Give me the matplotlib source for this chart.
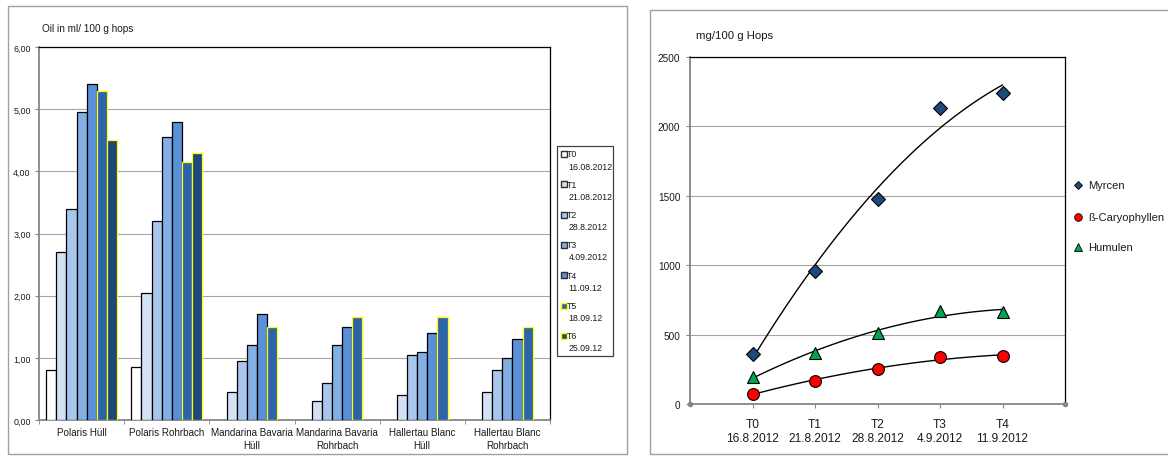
import matplotlib
matplotlib.use('Agg')
import matplotlib.pyplot as plt
import numpy as np
from matplotlib.patches import Rectangle
from matplotlib.lines import Line2D

plt.rcParams['font.family'] = ['Liberation Sans', 'DejaVu Sans']

# ---- left chart data: oil content per variety / sampling date
varieties = ['Polaris Hüll', 'Polaris Rohrbach', 'Mandarina Bavaria\nHüll',
             'Mandarina Bavaria\nRohrbach', 'Hallertau Blanc\nHüll',
             'Hallertau Blanc\nRohrbach']
dates = ['T0\n16.08.2012', 'T1\n21.08.2012', 'T2\n28.8.2012', 'T3\n4.09.2012',
         'T4\n11.09.12', 'T5\n18.09.12', 'T6\n25.09.12']
T0 = [0.80, 0.85, None, None, None, None]
T1 = [2.70, 2.05, 0.45, 0.30, 0.40, 0.45]
T2 = [3.40, 3.20, 0.95, 0.60, 1.05, 0.80]
T3 = [4.95, 4.55, 1.20, 1.20, 1.10, 1.00]
T4 = [5.40, 4.80, 1.70, 1.50, 1.40, 1.30]
T5 = [5.30, 4.15, 1.50, 1.65, 1.65, 1.50]
T6 = [4.50, 4.30, None, None, None, None]
oil = [T0, T1, T2, T3, T4, T5, T6]
bar_colors = ['#FFFFFF', '#D3E1F4', '#A9C7EC', '#84AFE3', '#5A90D8', '#2C63AA', '#1F477D']
edge_colors = ['#000000'] * 5 + ['#FFFF00'] * 2

# ---- right chart data: oil components mg/100 g
times = ['T0\n16.8.2012', 'T1\n21.8.2012', 'T2\n28.8.2012', 'T3\n4.9.2012', 'T4\n11.9.2012']
myrcen = [360, 960, 1480, 2130, 2240]
caryophyllen = [75, 165, 250, 340, 345]
humulen = [195, 370, 510, 670, 665]

W, H = 1168, 460
fig = plt.figure(figsize=(W / 100, H / 100), dpi=100)


def fx(px):
    return px / W


def fy(py):
    return 1 - py / H


# outer frames
fig.add_artist(Rectangle((fx(8), fy(455)), fx(619), (455 - 7) / H, transform=fig.transFigure,
                         fill=False, ec='#A0A0A0', lw=1))
fig.add_artist(Rectangle((fx(650), fy(455)), fx(600), (455 - 11) / H, transform=fig.transFigure,
                         fill=False, ec='#A0A0A0', lw=1))

grey = '#868686'

# ---------------- left bar chart
ax = fig.add_axes([fx(39), fy(421), fx(511), (421 - 48) / H])
w = 0.119
centers = np.arange(len(varieties)) + 0.5
for j, series in enumerate(oil):
    xs = [c + (j - 3) * w for c, v in zip(centers, series) if v is not None]
    vs = [v for v in series if v is not None]
    ax.bar(xs, vs, width=w, color=bar_colors[j], edgecolor=edge_colors[j], linewidth=0.9, zorder=3)

ax.set_xlim(0, 6)
ax.set_ylim(0, 6)
ax.set_yticks(np.arange(0, 7, 1))
ax.set_yticklabels(['%d,00' % v for v in range(7)])
ax.set_xticks(centers)
ax.set_xticklabels(varieties, fontsize=7.1, linespacing=1.35, color='#1A1A1A')
ax.set_xticks(np.arange(0, 7, 1), minor=True)
ax.tick_params(axis='x', which='major', length=0, pad=5)
ax.tick_params(axis='x', which='minor', length=3, color=grey, direction='out')
ax.tick_params(axis='y', length=3, color=grey, labelsize=6.4, pad=3, labelcolor='#1A1A1A')
ax.yaxis.grid(True, color='#A6A6A6', lw=0.8, zorder=0)
for s in ['top', 'right']:
    ax.spines[s].set_color('black')
    ax.spines[s].set_linewidth(0.9)
for s in ['left', 'bottom']:
    ax.spines[s].set_color(grey)
    ax.spines[s].set_linewidth(1.3)
fig.text(fx(42), fy(29), 'Oil in ml/ 100 g hops', fontsize=7.2, va='center', color='#1A1A1A')

# legend box (manual)
fig.add_artist(Rectangle((fx(557), fy(357)), fx(56), (357 - 147) / H, transform=fig.transFigure,
                         fill=True, fc='white', ec='#404040', lw=0.9))
for j, lab in enumerate(dates):
    yc = 155 + j * 30.3
    fig.add_artist(Rectangle((fx(560.5), fy(yc + 3)), fx(6), 6 / H, transform=fig.transFigure,
                             fc=bar_colors[j], ec=edge_colors[j] if j > 4 else '#303030', lw=1.0))
    t, d = lab.split('\n')
    fig.text(fx(567), fy(yc), t, fontsize=6.3, va='center', color='#1A1A1A')
    fig.text(fx(568.5), fy(yc + 12), d, fontsize=6.3, va='center', color='#1A1A1A')

# ---------------- right scatter with trendlines
ax2 = fig.add_axes([fx(690), fy(405), fx(375), (405 - 58) / H])
x = np.arange(len(times))
xf = np.linspace(0, 4, 100)
for vals in [myrcen, caryophyllen, humulen]:
    p = np.polyfit(x, vals, 2)
    ax2.plot(xf, np.polyval(p, xf), color='black', lw=1.0, zorder=3)
ax2.plot(x, myrcen, 'D', ms=7, mfc='#1F497D', mec='black', mew=0.8, ls='none', zorder=4)
ax2.plot(x, caryophyllen, 'o', ms=8.5, mfc='#FF0000', mec='black', mew=0.8, ls='none', zorder=4)
ax2.plot(x, humulen, '^', ms=8.5, mfc='#00A550', mec='black', mew=0.8, ls='none', zorder=4)
ax2.set_xlim(-1, 5)
ax2.set_ylim(0, 2500)
ax2.set_yticks(np.arange(0, 2501, 500))
ax2.set_xticks(x)
ax2.set_xticklabels(times, fontsize=8.6, linespacing=1.2, color='#1A1A1A')
ax2.tick_params(axis='x', length=3, color=grey, pad=7)
ax2.tick_params(axis='y', length=3, color=grey, labelsize=7.2, pad=4, labelcolor='#1A1A1A')
ax2.yaxis.grid(True, color='#A6A6A6', lw=0.8, zorder=0)
for s in ['top', 'right']:
    ax2.spines[s].set_color('black')
    ax2.spines[s].set_linewidth(0.9)
for s in ['left', 'bottom']:
    ax2.spines[s].set_color(grey)
    ax2.spines[s].set_linewidth(1.3)
ax2.plot([-1, 5], [0, 0], 'o', ms=3, color=grey, clip_on=False, zorder=5)
fig.text(fx(696), fy(36), 'mg/100 g Hops', fontsize=8.2, va='center', color='#1A1A1A')

legend_items = [('Myrcen', 'D', '#1F497D', 4.5, 186), ('ß-Caryophyllen', 'o', '#FF0000', 5.5, 218),
                ('Humulen', '^', '#00A550', 5.5, 248)]
for name, m, c, ms, yy in legend_items:
    fig.add_artist(Line2D([fx(1078)], [fy(yy)], marker=m, ms=ms, mfc=c, mec='black', mew=0.6,
                          ls='none', transform=fig.transFigure))
    fig.text(fx(1088), fy(yy), name, fontsize=8.0, va='center', color='#1A1A1A')

fig.savefig('out.png', dpi=100)
